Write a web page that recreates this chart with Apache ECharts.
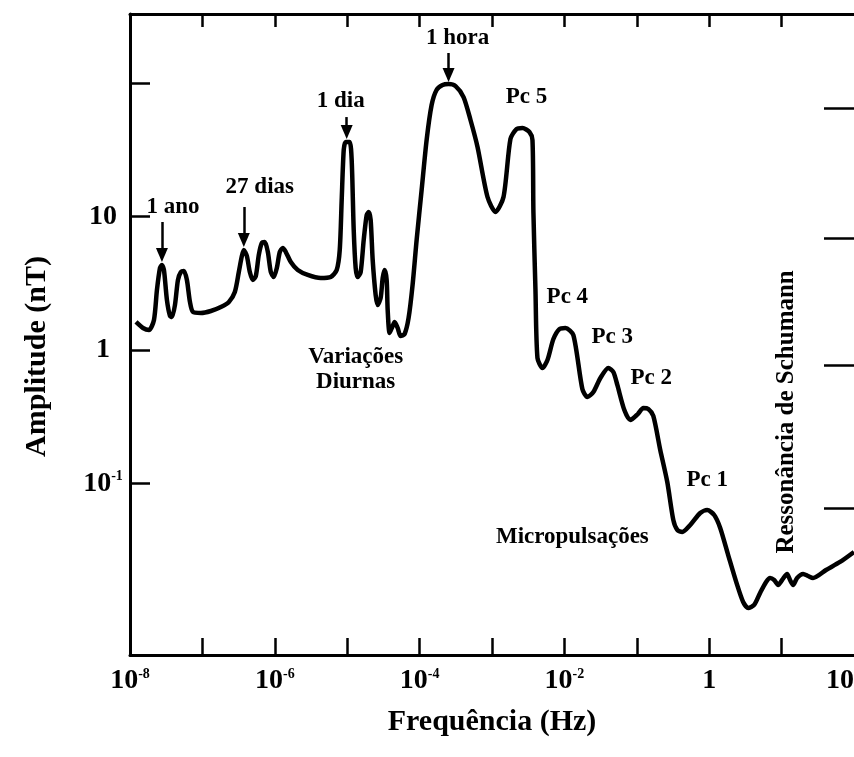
<!DOCTYPE html>
<html>
<head>
<meta charset="utf-8">
<script src="https://cdn.jsdelivr.net/npm/echarts@6/dist/echarts.min.js"></script>
<style>
html, body { margin: 0; padding: 0; background: #fff; }
#chart { width: 854px; height: 757px; }
</style>
</head>
<body>
<div id="chart"></div>
<script>
// spectrum: log10 of frequency (Hz) and log10 of amplitude (nT)
let logFreq = [
    -7.917, -7.821, -7.738, -7.669, -7.628, -7.586, -7.559, -7.531, -7.490, -7.448,
    -7.421, -7.379, -7.338, -7.297, -7.255, -7.214, -7.172, -7.131, -7.021, -6.883,
    -6.745, -6.634, -6.552, -6.497, -6.455, -6.428, -6.386, -6.345, -6.303, -6.262,
    -6.221, -6.179, -6.138, -6.096, -6.055, -6.014, -5.972, -5.931, -5.890, -5.848,
    -5.779, -5.683, -5.545, -5.366, -5.228, -5.145, -5.103, -5.076, -5.048, -5.021,
    -4.966, -4.938, -4.910, -4.883, -4.855, -4.814, -4.772, -4.731, -4.703, -4.676,
    -4.648, -4.607, -4.579, -4.538, -4.510, -4.483, -4.455, -4.441, -4.414, -4.372,
    -4.345, -4.303, -4.262, -4.207, -4.152, -4.097, -4.041, -3.972, -3.903, -3.834,
    -3.766, -3.683, -3.600, -3.503, -3.393, -3.297, -3.200, -3.062, -2.952, -2.841,
    -2.745, -2.662, -2.579, -2.483, -2.441, -2.428, -2.400, -2.372, -2.303, -2.234,
    -2.152, -2.069, -1.986, -1.876, -1.752, -1.683, -1.600, -1.503, -1.393, -1.324,
    -1.269, -1.172, -1.090, -0.986, -0.910, -0.841, -0.772, -0.676, -0.579, -0.496,
    -0.441, -0.372, -0.262, -0.124, -0.028, 0.069, 0.152, 0.262, 0.386, 0.469,
    0.538, 0.621, 0.703, 0.786, 0.841, 0.897, 0.952, 1.007, 1.076, 1.117,
    1.159, 1.214, 1.297, 1.366, 1.434, 1.614, 1.807, 2.000
];
let logAmp = [
    0.210, 0.165, 0.150, 0.225, 0.449, 0.614, 0.637, 0.599, 0.375, 0.255,
    0.247, 0.337, 0.524, 0.584, 0.592, 0.524, 0.360, 0.285, 0.277, 0.292,
    0.322, 0.360, 0.434, 0.584, 0.704, 0.749, 0.704, 0.584, 0.524, 0.554,
    0.712, 0.801, 0.809, 0.734, 0.584, 0.547, 0.614, 0.734, 0.764, 0.734,
    0.659, 0.599, 0.562, 0.539, 0.547, 0.599, 0.749, 1.124, 1.498, 1.558,
    1.558, 1.423, 0.899, 0.614, 0.547, 0.584, 0.824, 1.011, 1.034, 0.974,
    0.674, 0.412, 0.337, 0.390, 0.539, 0.599, 0.524, 0.300, 0.127, 0.180,
    0.210, 0.165, 0.105, 0.120, 0.240, 0.487, 0.824, 1.198, 1.573, 1.835,
    1.948, 1.985, 1.992, 1.977, 1.895, 1.723, 1.521, 1.146, 1.034, 1.146,
    1.581, 1.655, 1.663, 1.633, 1.573, 1.034, 0.457, -0.060, -0.135, -0.075,
    0.082, 0.157, 0.165, 0.112, -0.292, -0.352, -0.315, -0.210, -0.135, -0.165,
    -0.262, -0.450, -0.524, -0.480, -0.435, -0.442, -0.494, -0.749, -0.989, -1.273,
    -1.348, -1.363, -1.311, -1.221, -1.199, -1.236, -1.333, -1.536, -1.760, -1.888,
    -1.933, -1.910, -1.820, -1.738, -1.708, -1.723, -1.760, -1.723, -1.678, -1.723,
    -1.760, -1.708, -1.678, -1.693, -1.708, -1.648, -1.588, -1.513
];

// annotations (log10 Hz, log10 nT)
let noteText = ["1 ano", "27 dias", "1 dia", "1 hora", "Pc 5", "Pc 4", "Pc 3", "Pc 2", "Pc 1",
    "Variações\nDiurnas", "Micropulsações"];
let noteFreq = [-7.407, -6.207, -5.090, -3.476, -2.524, -1.959, -1.338, -0.800, -0.028, -4.883, -1.890];
let noteAmp = [1.071, 1.221, 1.865, 2.337, 1.895, 0.397, 0.097, -0.210, -0.974, -0.150, -1.401];
let schumannText = "Ressonância de Schumann";
let schumannPos = [1.062, -0.464];

// arrows pointing at the peaks
let arrowFreq = [-7.559, -6.428, -5.007, -3.600];
let arrowFrom = [0.959, 1.071, 1.745, 2.225];
let arrowTo = [0.712, 0.824, 1.633, 2.060];

// axes
let xMin = 1e-8, xMax = 100;
let yMin = 0.005188, yMax = 328.9;
let xTicks = [1e-7, 1e-6, 1e-5, 1e-4, 1e-3, 1e-2, 1e-1, 1, 10];
let xLabelValues = [1e-8, 1e-6, 1e-4, 1e-2, 1, 100];
let xLabelText = ["10|-8", "10|-6", "10|-4", "10|-2", "1", "10"];
let yTicks = [0.1, 1, 10, 100];
let yLabelValues = [0.1, 1, 10];
let yLabelText = ["10|-1", "1", "10"];
let rightTicks = [65, 6.9, 0.77, 0.0655];

const FONT = "'Liberation Serif', 'Times New Roman', serif";

function pow10(v) { return Math.pow(10, v); }

function labelFor(values, texts) {
    return function (val) {
        let e = Math.log10(val);
        for (let i = 0; i < values.length; i++) {
            if (Math.abs(Math.log10(values[i]) - e) < 0.01) {
                let parts = texts[i].split("|");
                return parts.length > 1 ? `{b|${parts[0]}}{s|${parts[1]}}` : `{b|${parts[0]}}`;
            }
        }
        return "";
    };
}

const richLabel = {
    b: { fontFamily: FONT, fontWeight: "bold", fontSize: 28, color: "#000" },
    s: { fontFamily: FONT, fontWeight: "bold", fontSize: 14, color: "#000", verticalAlign: "top", lineHeight: 14 }
};

let myChart = echarts.init(document.getElementById("chart"));

let curve = logFreq.map((f, i) => [pow10(f), pow10(logAmp[i])]);
let notes = noteText.map((t, i) => ({ value: [pow10(noteFreq[i]), pow10(noteAmp[i])], name: t }));
notes.push({
    value: [pow10(schumannPos[0]), pow10(schumannPos[1])],
    name: schumannText,
    label: { rotate: 90, fontSize: 25 }
});
let arrows = arrowFreq.map((f, i) => [
    { coord: [pow10(f), pow10(arrowFrom[i])] },
    { coord: [pow10(f), pow10(arrowTo[i])] }
]);

myChart.setOption({
    animation: false,
    backgroundColor: "#fff",
    grid: { left: 130, right: 0, top: 14, bottom: 102, containLabel: false, outerBoundsMode: "none" },
    xAxis: [{
        type: "log",
        min: xMin,
        max: xMax,
        position: "bottom",
        name: "Frequência (Hz)",
        nameLocation: "middle",
        nameGap: 52,
        nameTextStyle: { fontFamily: FONT, fontWeight: "bold", fontSize: 30, color: "#000" },
        axisLine: { lineStyle: { color: "#000", width: 3 } },
        axisTick: { inside: true, length: 17, customValues: xTicks, lineStyle: { color: "#000", width: 2.5 } },
        axisLabel: {
            margin: 12,
            customValues: xLabelValues,
            alignMaxLabel: "right",
            formatter: labelFor(xLabelValues, xLabelText),
            rich: richLabel
        },
        splitLine: { show: false },
        minorTick: { show: false }
    }, {
        type: "log",
        min: xMin,
        max: xMax,
        position: "top",
        axisLine: { lineStyle: { color: "#000", width: 3 } },
        axisTick: { inside: true, length: 13, customValues: xTicks, lineStyle: { color: "#000", width: 2.5 } },
        axisLabel: { show: false },
        splitLine: { show: false }
    }],
    yAxis: [{
        type: "log",
        min: yMin,
        max: yMax,
        position: "left",
        name: "Amplitude (nT)",
        nameLocation: "middle",
        nameGap: 78,
        nameTextStyle: { fontFamily: FONT, fontWeight: "bold", fontSize: 30, color: "#000", padding: [0, 44, 0, 0] },
        axisLine: { lineStyle: { color: "#000", width: 3 } },
        axisTick: { inside: true, length: 20, customValues: yTicks, lineStyle: { color: "#000", width: 2.5 } },
        axisLabel: {
            margin: 27,
            align: "center",
            customValues: yLabelValues,
            formatter: labelFor(yLabelValues, yLabelText),
            rich: richLabel
        },
        splitLine: { show: false }
    }, {
        type: "log",
        min: yMin,
        max: yMax,
        position: "right",
        axisLine: { show: false },
        axisTick: { show: true, inside: true, length: 30, customValues: rightTicks, lineStyle: { color: "#000", width: 2.5 } },
        axisLabel: { show: false },
        splitLine: { show: false }
    }],
    series: [{
        type: "line",
        data: curve,
        showSymbol: false,
        smooth: 0.25,
        lineStyle: { color: "#000", width: 4.5 },
        markLine: {
            silent: true,
            animation: false,
            symbol: ["none", "triangle"],
            symbolSize: [12, 14],
            lineStyle: { color: "#000", width: 2.5, type: "solid" },
            label: { show: false },
            emphasis: { disabled: true },
            data: arrows
        }
    }, {
        type: "scatter",
        data: notes,
        symbolSize: 1,
        itemStyle: { color: "rgba(0,0,0,0)", opacity: 1 },
        silent: true,
        label: {
            show: true,
            position: "inside",
            formatter: p => p.name,
            fontFamily: FONT,
            fontWeight: "bold",
            fontSize: 23,
            lineHeight: 25,
            color: "#000",
            textBorderWidth: 0
        }
    }]
});
</script>
</body>
</html>
